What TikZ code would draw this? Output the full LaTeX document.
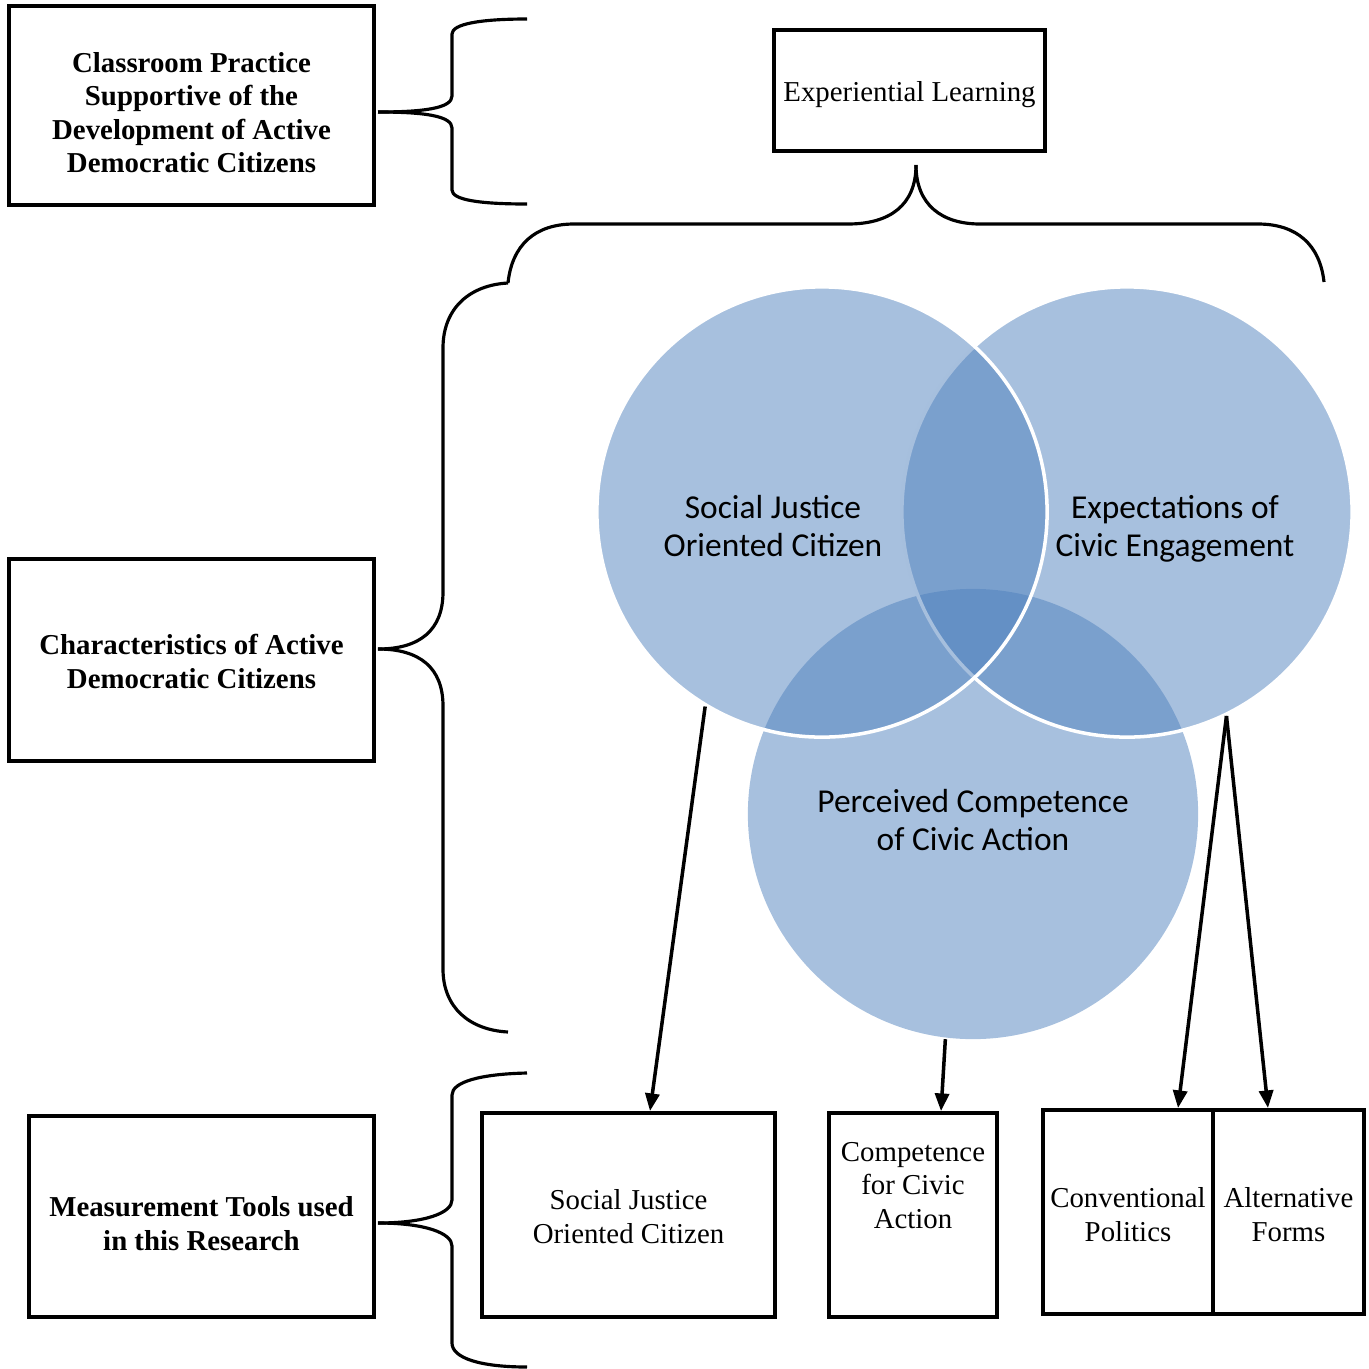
\documentclass[tikz,border=0pt]{standalone}
\usepackage{fontspec}
\setmainfont{Liberation Serif}
\newfontfamily\calibri{Carlito}
\usetikzlibrary{arrows.meta}
\definecolor{vennblue}{RGB}{79,129,189}

\begin{document}
\begin{tikzpicture}[x=0.01cm,y=-0.01cm,
        box/.style={draw,line width=1.1pt,inner sep=0pt},
        boxtext/.style={align=center,font=\fontsize{8.2}{9.5}\selectfont},
        boldtext/.style={boxtext,font=\fontsize{8.2}{9.5}\selectfont\bfseries},
        venn/.style={circle,fill=vennblue,fill opacity=0.5,draw=white,line width=1pt,minimum size=4.5cm,inner sep=0pt},
        venntext/.style={align=center,font=\calibri\fontsize{9.5}{10.8}\selectfont},
        brace/.style={line width=0.9pt},
        arr/.style={line width=1pt,-{Triangle[width=4pt,length=5pt]}}]
        \useasboundingbox (0,0) rectangle (1369,1369);
        \node[box,minimum width=3.65cm,minimum height=1.99cm] (clsbox) at (191.5,105.5) {};
        \node[box,minimum width=3.65cm,minimum height=2.02cm] (chrbox) at (191.5,660) {};
        \node[box,minimum width=3.45cm,minimum height=2.01cm] (msrbox) at (201.5,1216.5) {};
        \node[box,minimum width=2.71cm,minimum height=1.21cm] (expbox) at (909.5,90.5) {};
        \node[box,minimum width=2.93cm,minimum height=2.04cm] (sjbox) at (628.5,1215) {};
        \node[box,minimum width=1.68cm,minimum height=2.04cm] (compbox) at (913,1215) {};
        \node[box,minimum width=1.70cm,minimum height=2.04cm] (convbox) at (1128,1212) {};
        \node[box,minimum width=1.51cm,minimum height=2.04cm] (altbox) at (1288.5,1212) {};
        \node[boldtext] (clstxt) at (191.5,112.5) {Classroom Practice\\Supportive of the\\Development of Active\\Democratic Citizens};
        \node[boldtext] (chrtxt) at (191.5,661.5) {Characteristics of Active\\Democratic Citizens};
        \node[boldtext] (msrtxt) at (201.5,1223.5) {Measurement Tools used\\in this Research};
        \node[boxtext] (exptxt) at (909.5,94.5) {Experiential Learning};
        \node[boxtext] (sjtxt) at (628.5,1216.5) {Social Justice\\Oriented Citizen};
        \node[boxtext] (comptxt) at (913,1185.5) {Competence\\for Civic\\Action};
        \node[boxtext] (convtxt) at (1128,1214.5) {Conventional\\Politics};
        \node[boxtext] (alttxt) at (1288.5,1214.5) {Alternative\\Forms};
        \node[venn,draw=none] (pcc) at (973,814) {};
        \node[venn] (ecc) at (1127,512) {};
        \node[venn] (sjc) at (822,512) {};
        \node[venntext] (sjt) at (773,526) {Social Justice\\Oriented Citizen};
        \node[venntext] (ect) at (1175,529) {Expectations of\\Civic Engagement};
        \node[venntext] (pct) at (973,820) {Perceived Competence\\of Civic Action};
        \coordinate (clstip) at (378,112);
        \coordinate (chrtip) at (378,649);
        \coordinate (msrtip) at (378,1223);
        \coordinate (exptip) at (916,165);
        \coordinate (corner) at (508,283);
        \draw[brace] (clstip) .. controls (425,112) and (452,108) .. (452,96) -- (452,34) .. controls (452,24) and (480,19) .. (527,19);
        \draw[brace] (clstip) .. controls (425,112) and (452,116) .. (452,128) -- (452,190) .. controls (452,200) and (480,204) .. (527,204);
        \draw[brace] (chrtip) .. controls (420,649) and (443,630) .. (443,592) -- (443,348) .. controls (443,308) and (470,285) .. (corner);
        \draw[brace] (chrtip) .. controls (420,649) and (443,668) .. (443,706) -- (443,969) .. controls (443,1008) and (470,1030) .. (508,1032);
        \draw[brace] (corner) .. controls (512,245) and (535,224) .. (574,224) -- (848,224) .. controls (890,224) and (916,205) .. (exptip);
        \draw[brace] (exptip) .. controls (916,205) and (942,224) .. (980,224) -- (1258,224) .. controls (1297,224) and (1320,245) .. (1324,282);
        \draw[brace] (msrtip) .. controls (425,1223) and (452,1213) .. (452,1200) -- (452,1095) .. controls (452,1082) and (480,1074) .. (527,1073);
        \draw[brace] (msrtip) .. controls (425,1223) and (452,1233) .. (452,1246) -- (452,1343) .. controls (452,1358) and (480,1367) .. (527,1367);
        \draw[arr] (sjc.239) -- ([xshift=0.215cm]sjbox.north);
        \draw[arr] (pcc.263) -- ([xshift=0.28cm]compbox.north);
        \draw[arr] (ecc.296) -- ([xshift=0.5cm]convbox.north);
        \draw[arr] (ecc.296) -- ([xshift=-0.205cm]altbox.north);
\end{tikzpicture}
\end{document}
